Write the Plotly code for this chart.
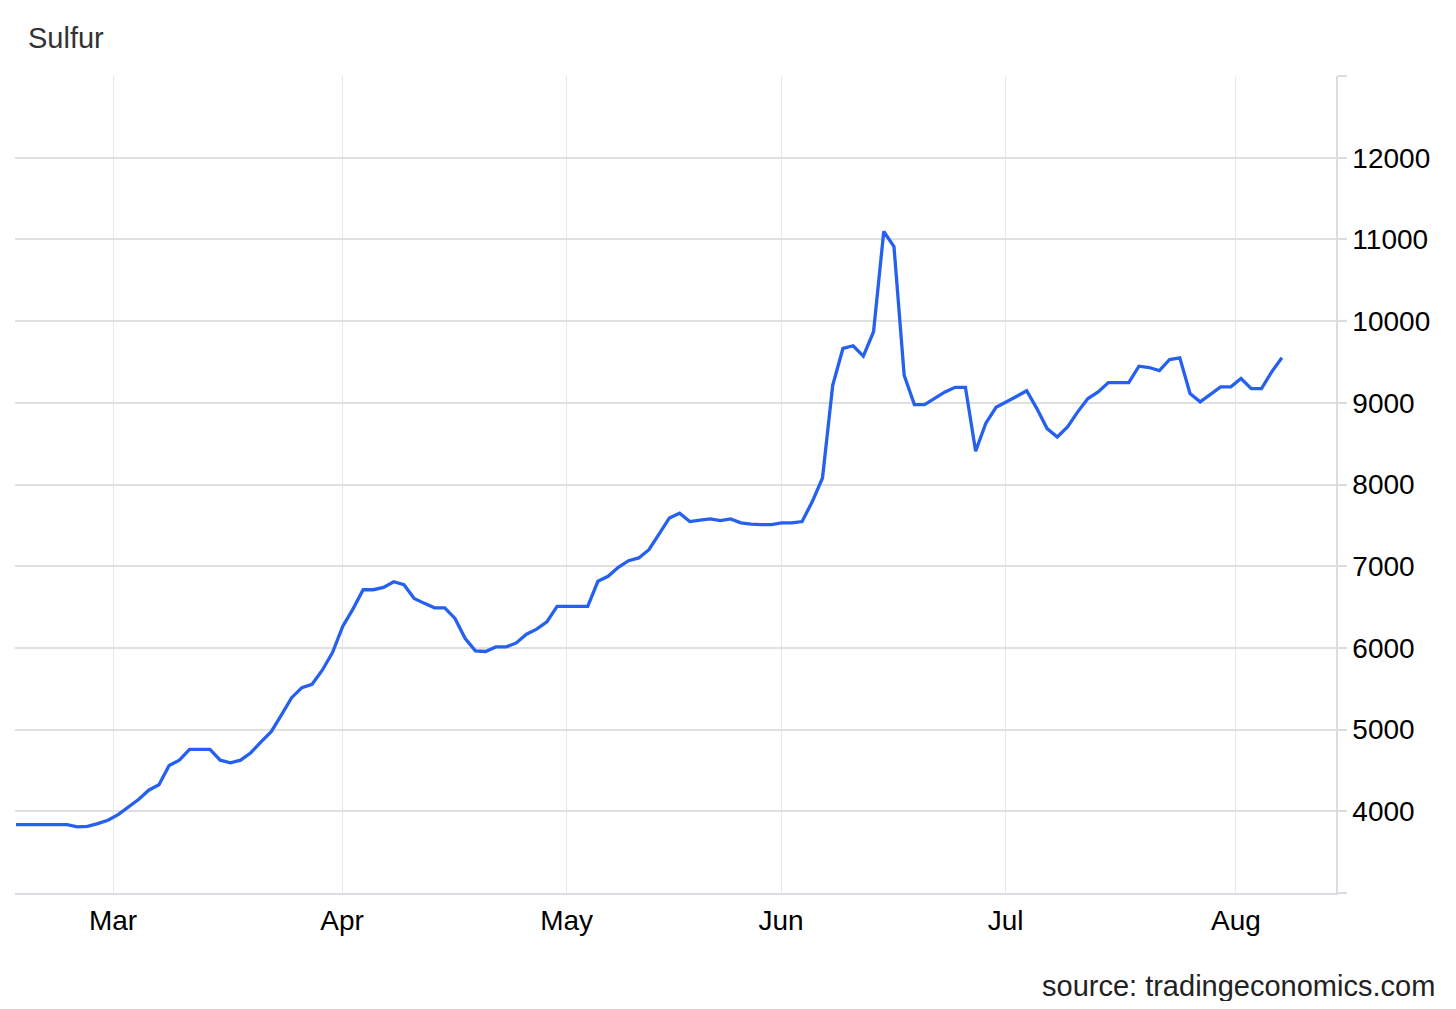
import pandas as pd
import plotly.graph_objects as go

# --- data (business days) ---
start_date = "2026-02-16"
values = [
    3837, 3837, 3837, 3837, 3837, 3837, 3809, 3816, 3849, 3890,
    3960, 4054, 4144, 4258, 4324, 4561, 4626, 4757, 4757, 4757,
    4626, 4594, 4626, 4717, 4850, 4975, 5180, 5391, 5514, 5555,
    5727, 5944, 6263, 6475, 6712, 6712, 6741, 6810, 6773, 6606,
    6545, 6491, 6491, 6361, 6115, 5963, 5956, 6012, 6012, 6061,
    6168, 6229, 6319, 6508, 6508, 6508, 6508, 6815, 6876, 6987,
    7067, 7101, 7202, 7395, 7591, 7649, 7546, 7563, 7579, 7558,
    7579, 7530, 7514, 7509, 7509, 7530, 7530, 7546, 7791, 8080,
    9215, 9665, 9698, 9571, 9870, 11097, 10913, 9337, 8978, 8978,
    9052, 9133, 9190, 9190, 8408, 8750, 8945, 9007, 9078, 9148,
    8929, 8684, 8582, 8705, 8889, 9052, 9133, 9248, 9248, 9248,
    9448, 9432, 9395, 9530, 9551, 9113, 9011, 9104, 9195, 9195,
    9297, 9174, 9174, 9379, 9551,
]
month_ticks = ["2026-03-02 00:00", "2026-04-01 10:30", "2026-05-01 10:30",
               "2026-06-01 10:30", "2026-07-01 10:30", "2026-08-03 00:00"]
month_labels = ["Mar", "Apr", "May", "Jun", "Jul", "Aug"]
y_ticks = [3000, 4000, 5000, 6000, 7000, 8000, 9000, 10000, 11000, 12000, 13000]
y_labels = ["", "4000", "5000", "6000", "7000", "8000", "9000", "10000", "11000", "12000", ""]

dates = pd.bdate_range(start=start_date, periods=len(values)) + pd.Timedelta(hours=12)

FONT = "Arial, Liberation Sans, sans-serif"
W, H = 1440, 993  # page has 8px body margin

fig = go.Figure()
fig.add_trace(go.Scatter(
    x=dates, y=values, mode="lines",
    line=dict(color="#2561ee", width=3.3),
    hoverinfo="x+y",
))

fig.update_layout(
    width=W, height=H,
    margin=dict(l=7, r=112, t=68, b=108),
    paper_bgcolor="white", plot_bgcolor="white",
    showlegend=False,
    font=dict(family=FONT, size=28, color="#000"),
    title=dict(text="Sulfur", x=20 / W, xanchor="left", xref="container",
               y=1 - 30 / H, yanchor="middle", yref="container",
               font=dict(family=FONT, size=29, color="#333")),
    xaxis=dict(
        type="date",
        range=["2026-02-16 09:36", "2026-08-14 19:12"],
        rangebreaks=[dict(bounds=["sat", "mon"])],
        tickvals=month_ticks, ticktext=month_labels,
        showgrid=True, gridcolor="#e1e9f2", gridwidth=1.2,
        showline=True, linecolor="#d9dde2", linewidth=1.5,
        ticks="", zeroline=False, ticklabelstandoff=2,
        tickfont=dict(family=FONT, size=28, color="#000"),
    ),
    yaxis=dict(
        side="right",
        range=[3000, 13000],
        tickvals=y_ticks, ticktext=y_labels,
        showgrid=True, gridcolor="#e0e0e0", gridwidth=1.5,
        showline=True, linecolor="#dadde2", linewidth=1.5,
        ticks="outside", ticklen=9, tickcolor="#d9dde2", tickwidth=1.5,
        zeroline=False,
        tickfont=dict(family=FONT, size=28, color="#000"),
    ),
    annotations=[dict(
        text="source: tradingeconomics.com", xref="paper", yref="paper",
        x=(1429 - 7) / 1321, y=(885.3 - 978) / 817.6,
        xanchor="right", yanchor="middle", showarrow=False,
        font=dict(family=FONT, size=29, color="#222"),
    )],
)

fig.write_html("out.html")
